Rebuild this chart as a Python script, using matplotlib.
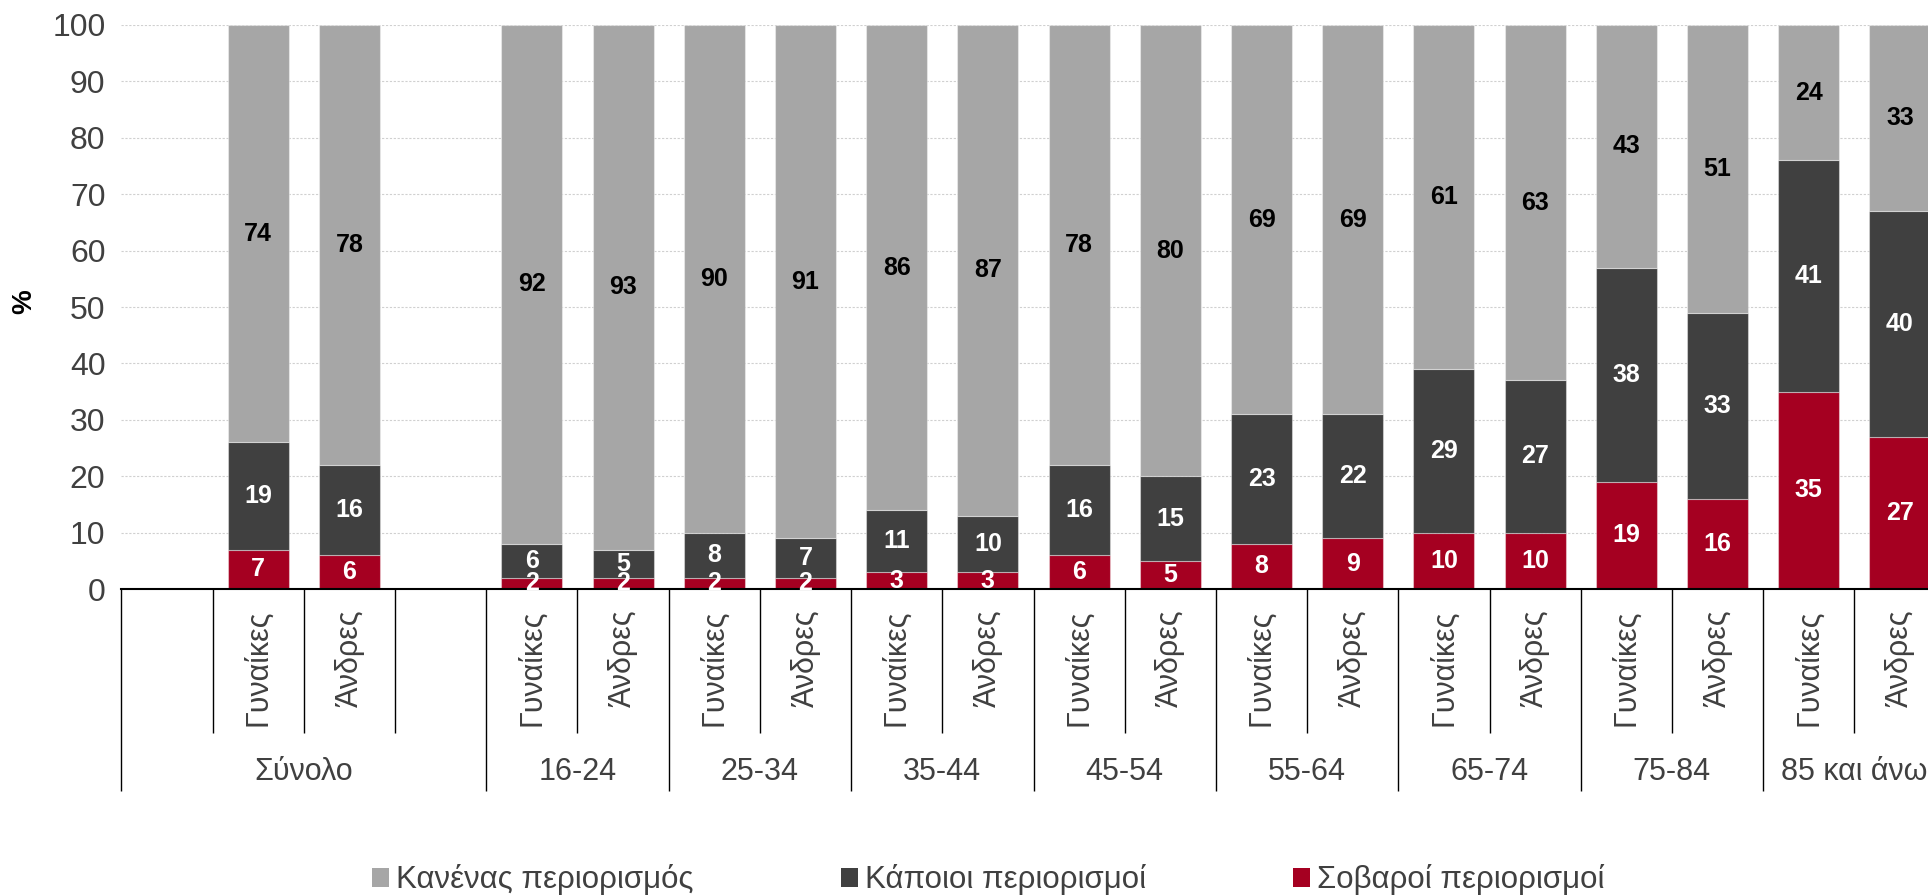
import matplotlib
matplotlib.use('Agg')
import matplotlib.pyplot as plt
from matplotlib.patches import Patch

plt.rcParams['font.family'] = ['Liberation Sans', 'DejaVu Sans']

# ---- data ----
groups = ['Σύνολο', '16-24', '25-34', '35-44', '45-54', '55-64', '65-74', '75-84', '85 και άνω']
sexes = ['Γυναίκες', 'Άνδρες']
series_names = ['Κανένας περιορισμός', 'Κάποιοι περιορισμοί', 'Σοβαροί περιορισμοί']
# order within each group: Γυναίκες, Άνδρες
severe = [7, 6, 2, 2, 2, 2, 3, 3, 6, 5, 8, 9, 10, 10, 19, 16, 35, 27]
some = [19, 16, 6, 5, 8, 7, 11, 10, 16, 15, 23, 22, 29, 27, 38, 33, 41, 40]
none = [74, 78, 92, 93, 90, 91, 86, 87, 78, 80, 69, 69, 61, 63, 43, 51, 24, 33]
yticks = list(range(0, 101, 10))

C_NONE = '#A6A6A6'
C_SOME = '#404040'
C_SEV = '#A50021'
TXT = '#404040'

# ---- slot layout: Σύνολο group has a blank slot on each side ----
group_slots = [4] + [2] * (len(groups) - 1)
x_pos, slot_labels = [], []
group_bounds, group_centers = [], []
inner_bounds = []
start = -0.5
for gi, n in enumerate(group_slots):
    group_bounds.append(start)
    group_centers.append(start + n / 2)
    if gi == 0:
        x_pos += [start + 1.5, start + 2.5]
    else:
        x_pos += [start + 0.5, start + 1.5]
    for k in range(1, n):
        inner_bounds.append(start + k)
    start += n
group_bounds.append(start)
for g in groups:
    slot_labels += sexes

fig = plt.figure(figsize=(19.28, 8.96), dpi=100)
ax = fig.add_axes([0.0630, 0.3426, 0.9461, 0.6295])

width = 0.67
edge = (1, 1, 1, 0.4)
b_sev = [0] * len(severe)
b_some = [s for s in severe]
b_none = [s + m for s, m in zip(severe, some)]
ax.bar(x_pos, severe, width, bottom=b_sev, color=C_SEV, edgecolor=edge, linewidth=0.8, zorder=2)
ax.bar(x_pos, some, width, bottom=b_some, color=C_SOME, edgecolor=edge, linewidth=0.8, zorder=2)
ax.bar(x_pos, none, width, bottom=b_none, color=C_NONE, edgecolor=edge, linewidth=0.8, zorder=2)

for vals, bots, col in [(severe, b_sev, 'white'), (some, b_some, 'white'), (none, b_none, 'black')]:
    for x, v, b in zip(x_pos, vals, bots):
        ax.text(x, b + v / 2, f'{v}', ha='center', va='center', fontsize=18,
                fontweight='bold', color=col, zorder=3)

ax.set_ylim(0, 100)
ax.set_yticks(yticks)
ax.tick_params(axis='y', length=0, pad=11.5, labelsize=23, labelcolor=TXT)
ax.yaxis.grid(True, color='#D0D0D0', linestyle=(0, (2, 1.5)), linewidth=0.8)
ax.set_axisbelow(True)
ax.set_ylabel('%', fontsize=20, fontweight='bold', color='black')
ax.yaxis.set_label_coords(-0.0463, 0.51)

ax.set_xlim(-0.5, group_bounds[-1])
ax.set_xticks(group_bounds)
ax.set_xticks(inner_bounds, minor=True)
ax.tick_params(axis='x', which='major', direction='out', length=145.4, width=1.0,
               color='black', labelbottom=False)
ax.tick_params(axis='x', which='minor', direction='out', length=103.7, width=1.0,
               color='black', labelbottom=False)

for sp in ['top', 'right', 'left']:
    ax.spines[sp].set_visible(False)
ax.spines['bottom'].set_linewidth(1.5)
ax.spines['bottom'].set_color('black')

for x, lab in zip(x_pos, slot_labels):
    ax.annotate(lab, xy=(x, 0), xycoords=('data', 'axes fraction'),
                xytext=(0, -15), textcoords='offset points', rotation=90,
                ha='center', va='top', fontsize=22, color=TXT, annotation_clip=False)
for c, g in zip(group_centers, groups):
    ax.annotate(g, xy=(c, 0), xycoords=('data', 'axes fraction'),
                xytext=(0, -131.8), textcoords='offset points',
                ha='center', va='center', fontsize=22, color=TXT, annotation_clip=False)

handles = [Patch(facecolor=C_NONE), Patch(facecolor=C_SOME), Patch(facecolor=C_SEV)]
fig.legend(handles, series_names, loc='center', bbox_to_anchor=(0.5127, 0.018), ncol=3,
           frameon=False, fontsize=22.5, handlelength=0.55, handleheight=0.55,
           handletextpad=0.23, columnspacing=4.7, labelcolor=TXT, borderaxespad=0,
           borderpad=0)

fig.savefig('out.png', dpi=100)
